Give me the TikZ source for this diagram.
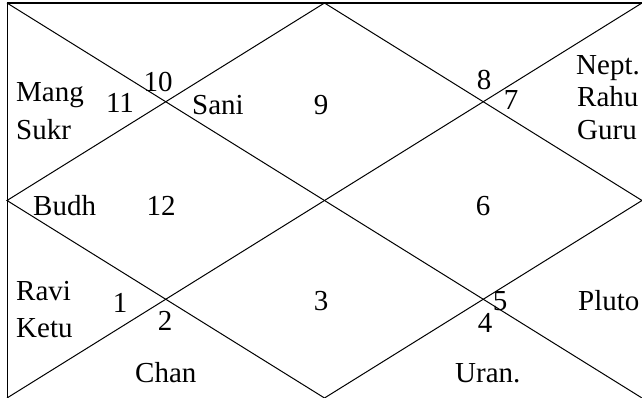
\documentclass[tikz,border=0pt]{standalone}
\usepackage{fontspec}
\setmainfont{Liberation Serif}
\begin{document}
\begin{tikzpicture}[x=1pt,y=-1pt,
  txt/.style={font=\fontsize{29}{35}\selectfont, inner sep=0pt},
  lt/.style={txt, anchor=base west},
  num/.style={txt, anchor=base},
  ln/.style={line width=1pt, line cap=butt}]
\useasboundingbox (0,0) rectangle (642,398);
\coordinate (TL) at (7,3);
\coordinate (TR) at (642,3);
\coordinate (BL) at (7,398);
\coordinate (BR) at (642,398);
\coordinate (T) at (324.5,3);
\coordinate (B) at (324.5,398);
\coordinate (L) at (7,200.5);
\coordinate (R) at (642,200.5);
\draw[line width=1.6pt] (TL) -- (TR);
\draw[ln] (TL) -- (BL);
\draw[ln] (TL) -- (BR);
\draw[ln] (TR) -- (BL);
\draw[ln] (T) -- (R) -- (B) -- (L) -- cycle;
% house 11
\node[lt] (mang) at (16,102) {Mang};
\node[lt] (sukr) at (16,140) {Sukr};
\node[num] (n11) at (120,113) {11};
% house 10
\node[num] (n10) at (158,92) {10};
% house 9
\node[lt] (sani) at (192,115) {Sani};
\node[num] (n9) at (321,115) {9};
% house 8
\node[num] (n8) at (484,90) {8};
% house 7
\node[num] (n7) at (511,110) {7};
\node[lt] (nept) at (576,75) {Nept.};
\node[lt] (rahu) at (577,107) {Rahu};
\node[lt] (guru) at (577,140) {Guru};
% house 12
\node[lt] (budh) at (33,215) {Budh};
\node[num] (n12) at (161,215) {12};
% house 6
\node[num] (n6) at (483,215) {6};
% house 1
\node[lt] (ravi) at (16,300) {Ravi};
\node[lt] (ketu) at (16,337) {Ketu};
\node[num] (n1) at (120,312) {1};
% house 2
\node[num] (n2) at (165,330) {2};
\node[lt] (chan) at (135,382) {Chan};
% house 3
\node[num] (n3) at (321,310) {3};
% house 4
\node[num] (n4) at (485,332) {4};
\node[lt] (uran) at (455,382) {Uran.};
% house 5
\node[num] (n5) at (500,310) {5};
\node[lt] (pluto) at (578,310) {Pluto};
\end{tikzpicture}
\end{document}
